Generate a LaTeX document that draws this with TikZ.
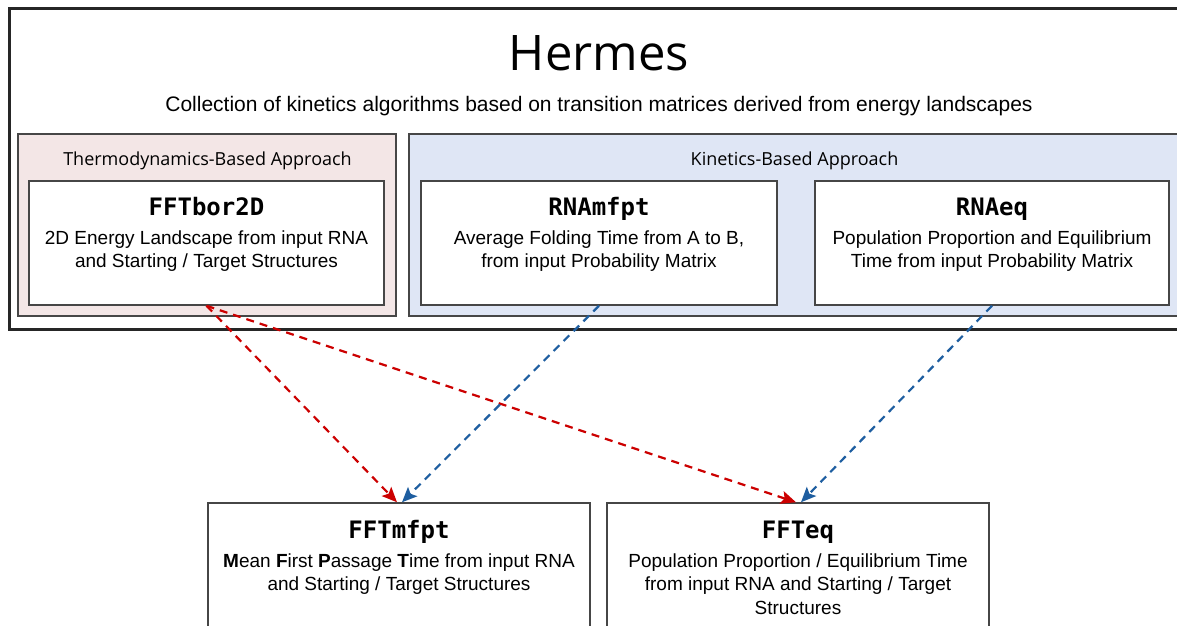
\documentclass[tikz,border=0pt]{standalone}
\usepackage{fontspec}
\setmainfont{Liberation Sans}
\newfontfamily\headfont{Open Sans}
\newfontfamily\codefont{DejaVu Sans Mono}
\usetikzlibrary{arrows.meta}
\definecolor{thermofill}{RGB}{243,230,230}
\definecolor{kinetfill}{RGB}{223,230,245}
\definecolor{flowred}{RGB}{204,0,0}
\definecolor{flowblue}{RGB}{30,94,160}
\definecolor{edgegray}{RGB}{70,70,70}

\begin{document}
\begin{tikzpicture}[x=1pt, y=-1pt,
        panel/.style={draw=edgegray, line width=1.5pt, minimum height=182pt, inner sep=0pt},
        toolbox/.style={draw=edgegray, line width=1.5pt, fill=white, inner sep=0pt},
        toolname/.style={font=\codefont\bfseries\fontsize{24}{28}\selectfont, inner sep=0pt, anchor=base},
        tooldesc/.style={font=\fontsize{19}{23.5}\selectfont, align=center, inner sep=0pt, anchor=base},
        panellabel/.style={font=\headfont\fontsize{18}{22}\selectfont, inner sep=0pt, anchor=base},
        flow/.style={line width=2.2pt, dash pattern=on 8pt off 6pt, -{Stealth[length=15pt, width=13pt, inset=3pt]}}]
        \path[use as bounding box, fill=white] (0,0) rectangle (1177,625);

        \node[draw=black!85, line width=3pt, minimum width=1181pt, minimum height=321pt, inner sep=0pt] (hermes) at (599.5,168.5) {};
        \node[font=\headfont\fontsize{49}{58}\selectfont, inner sep=0pt, anchor=base] (title) at (599,70) {Hermes};
        \node[font=\fontsize{21}{25}\selectfont, inner sep=0pt, anchor=base] (subtitle) at (599,111) {Collection of kinetics algorithms based on transition matrices derived from energy landscapes};

        \node[panel, fill=thermofill, minimum width=378pt] (thermo) at (207,225) {};
        \node[panel, fill=kinetfill, minimum width=771pt] (kinet) at (794.5,225) {};
        \node[panellabel] (thermolbl) at (207.5,165) {Thermodynamics-Based Approach};
        \node[panellabel] (kinetlbl) at (794.5,165) {Kinetics-Based Approach};

        % tools inside Hermes
        \node[toolbox, minimum width=355pt, minimum height=124pt] (bor) at (206.5,243) {};
        \node[toolbox, minimum width=356pt, minimum height=124pt] (rnamfpt) at (599,243) {};
        \node[toolbox, minimum width=354pt, minimum height=124pt] (rnaeq) at (992,243) {};
        \node[toolname] (borname) at ([yshift=-35pt]bor.north) {FFTbor2D};
        \node[toolname] (rnamfptname) at ([yshift=-35pt]rnamfpt.north) {RNAmfpt};
        \node[toolname] (rnaeqname) at ([yshift=-35pt]rnaeq.north) {RNAeq};
        % base of a two-line node is its last line
        \node[tooldesc] (bordesc) at ([yshift=-87.5pt]bor.north) {2D Energy Landscape from input RNA\\and Starting / Target Structures};
        \node[tooldesc] (rnamfptdesc) at ([yshift=-87.5pt]rnamfpt.north) {Average Folding Time from A to B,\\from input Probability Matrix};
        \node[tooldesc] (rnaeqdesc) at ([yshift=-87.5pt]rnaeq.north) {Population Proportion and Equilibrium\\Time from input Probability Matrix};

        % tools below
        \node[toolbox, minimum width=382pt, minimum height=150pt] (mfpt) at (399,578) {};
        \node[toolbox, minimum width=382pt, minimum height=150pt] (eq) at (798,578) {};
        \node[toolname] (mfptname) at ([yshift=-36pt]mfpt.north) {FFTmfpt};
        \node[toolname] (eqname) at ([yshift=-36pt]eq.north) {FFTeq};
        \node[tooldesc] (mfptdesc) at ([yshift=-88.5pt]mfpt.north) {\textbf{M}ean \textbf{F}irst \textbf{P}assage \textbf{T}ime from input RNA\\and Starting / Target Structures};
        \node[tooldesc] (eqdesc) at ([yshift=-112pt]eq.north) {Population Proportion / Equilibrium Time\\from input RNA and Starting / Target\\Structures};

        \draw[flow, flowred] (bor.south) -- ([xshift=-2pt]mfpt.north);
        \draw[flow, flowred] (bor.south) -- ([xshift=-2pt]eq.north);
        \draw[flow, flowblue] (rnamfpt.south) -- ([xshift=3pt]mfpt.north);
        \draw[flow, flowblue] (rnaeq.south) -- ([xshift=3pt]eq.north);

    \end{tikzpicture}
\end{document}
